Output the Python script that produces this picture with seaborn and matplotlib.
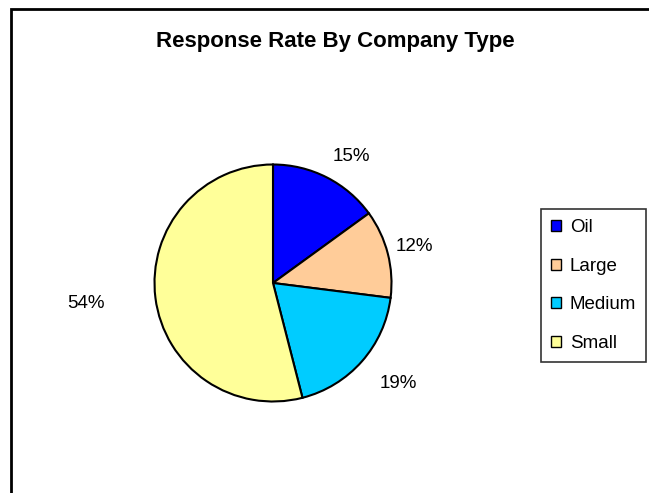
import matplotlib.pyplot as plt
import numpy as np
import seaborn as sns
from matplotlib.patches import Rectangle

categories = ["Oil", "Large", "Medium", "Small"]
shares = [15, 12, 19, 54]
slice_colors = ["#0000FF", "#FFCC99", "#00CCFF", "#FFFF99"]
title = "Response Rate By Company Type"

# where each % label sits (radii from centre, degrees nudged off the mid-angle)
label_dist = [1.255, 1.23, 1.35, 1.59]
label_shift = [-5.0, 0.3, 2.7, -1.0]

sns.set_style("white")
plt.rcParams["font.family"] = ["Liberation Sans", "DejaVu Sans"]
plt.rcParams["text.color"] = "black"

W, H = 649, 493
fig = plt.figure(figsize=(W / 100, H / 100), dpi=100)

# outer chart border (only left/top visible in this crop)
fig.add_artist(Rectangle((10.5 / W, -0.1), 1.2, 1 - 9.5 / H + 0.1,
                         transform=fig.transFigure, fill=False,
                         edgecolor="black", linewidth=2))

cx, cy, r = 273, 283, 118.5
ax = fig.add_axes([(cx - r) / W, 1 - (cy + r) / H, 2 * r / W, 2 * r / H])
palette = sns.color_palette(slice_colors)

wedges, _, autotexts = ax.pie(
    shares,
    colors=palette,
    startangle=90,
    counterclock=False,
    autopct="%1.0f%%",
    pctdistance=1.3,
    wedgeprops=dict(edgecolor="black", linewidth=1.5),
    textprops=dict(fontsize=13.5, color="black"),
)
for w, t, d, s in zip(wedges, autotexts, label_dist, label_shift):
    mid = np.deg2rad((w.theta1 + w.theta2) / 2 + s)
    t.set_position((d * np.cos(mid), d * np.sin(mid)))
    t.set_ha("center")
    t.set_va("center")
ax.set_xlim(-1, 1)
ax.set_ylim(-1, 1)
ax.set_aspect("equal")
ax.axis("off")

fig.text(335 / W, 1 - 41 / H, title, ha="center", va="center",
         fontsize=16, fontweight="bold", color="black")

leg = fig.legend(
    wedges, categories,
    loc="upper left",
    bbox_to_anchor=(541 / W, 1 - 209 / H),
    bbox_transform=fig.transFigure,
    frameon=True,
    fancybox=False,
    fontsize=13.5,
    handlelength=0.53,
    handleheight=0.53,
    handletextpad=0.45,
    labelspacing=1.15,
    borderpad=0.55,
    borderaxespad=0,
)
leg.get_frame().set_edgecolor("black")
leg.get_frame().set_linewidth(1.2)
for h in leg.legend_handles:
    h.set_linewidth(1.0)

fig.savefig("out.png", dpi=100)
